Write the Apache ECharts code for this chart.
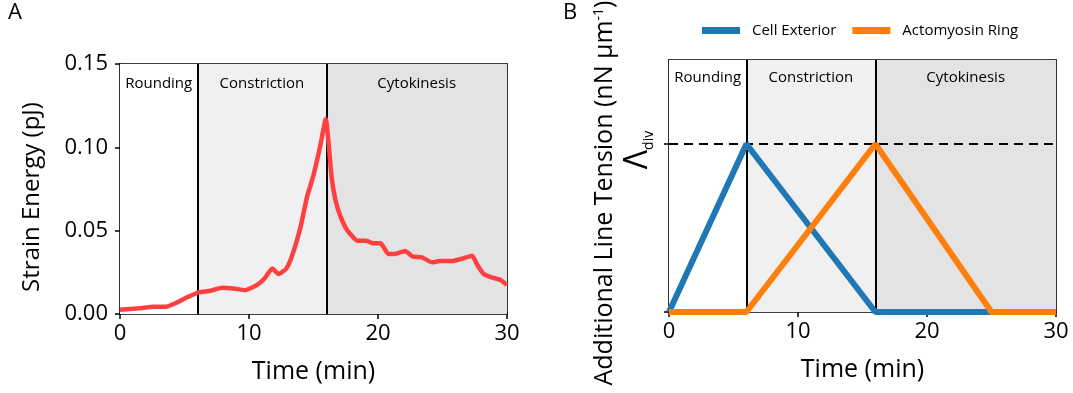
<!DOCTYPE html>
<html>
<head>
<meta charset="utf-8">
<script src="https://cdn.jsdelivr.net/npm/echarts@6/dist/echarts.min.js"></script>
<style>
html,body{margin:0;padding:0;background:#fff;}
#chart{width:1073px;height:393px;}
</style>
</head>
<body>
<div id="chart"></div>
<script>
// Panel A: strain energy vs time
const times = [0, 1.5, 2.6, 3.6, 4.4, 5.2, 6.1, 7.0, 7.9, 8.8, 9.7, 10.6, 11.2, 11.8, 12.3, 12.9, 13.4, 14.0, 14.5, 15.0, 15.5, 15.95, 16.4, 16.7, 17.1, 17.6, 18.4, 19.1, 19.6, 20.2, 20.8, 21.3, 22.1, 22.7, 23.4, 24.2, 24.8, 25.8, 26.6, 27.3, 27.7, 28.2, 28.8, 29.5, 30];
const energy = [0.0025, 0.0034, 0.0044, 0.0044, 0.0068, 0.010, 0.013, 0.0139, 0.0157, 0.0153, 0.0143, 0.0173, 0.0213, 0.0273, 0.024, 0.0273, 0.0363, 0.0523, 0.0703, 0.0833, 0.100, 0.117, 0.0824, 0.0684, 0.0584, 0.0504, 0.044, 0.044, 0.0424, 0.0424, 0.036, 0.036, 0.0378, 0.0344, 0.034, 0.031, 0.0318, 0.0318, 0.0334, 0.035, 0.0294, 0.024, 0.022, 0.0204, 0.0174];

// Panel B: additional line tension (in units of Λdiv)
const tensionTimes = [0, 6, 16, 25, 30];
const cellExterior = [0, 1, 0, 0, 0];
const actomyosinRing = [0, 0, 1, 0, 0];

// Phases
const phaseNames = ['Rounding', 'Constriction', 'Cytokinesis'];
const phaseBounds = [0, 6, 16, 30];
const phaseColors = ['#ffffff', '#f0f0f0', '#e3e3e3'];

const xTicks = [0, 10, 20, 30];
const yTicksA = [0, 0.05, 0.10, 0.15];
const lambdaDiv = 1;

const FONT = 'Open Sans';

function pairs(xs, ys) { return xs.map((x, i) => [x, ys[i]]); }

function phaseAreas(dist) {
  return phaseNames.map((n, i) => [
    { name: n, xAxis: phaseBounds[i], itemStyle: { color: phaseColors[i] },
      label: { show: true, position: 'insideTop', distance: dist, color: '#000', fontSize: 15, fontFamily: FONT } },
    { xAxis: phaseBounds[i + 1] }
  ]);
}

function bottomAxis(gi) {
  return {
    gridIndex: gi, type: 'value', min: xTicks[0], max: xTicks[xTicks.length - 1], interval: 10,
    axisLine: { onZero: false, lineStyle: { color: '#000', width: 1.6 } },
    axisTick: { show: true, length: 5, lineStyle: { color: '#000', width: 1.5 } },
    axisLabel: { color: '#000', fontSize: 22, fontFamily: FONT, margin: 9 },
    splitLine: { show: false },
    name: 'Time (min)', nameLocation: 'middle', nameGap: 45,
    nameTextStyle: { color: '#000', fontSize: 25, fontFamily: FONT }
  };
}
function frameAxisX(gi) {
  return { gridIndex: gi, type: 'value', position: 'top', min: 0, max: 1,
    axisLine: { show: true, onZero: false, lineStyle: { color: '#000', width: 1.6 } },
    axisTick: { show: false }, axisLabel: { show: false }, splitLine: { show: false } };
}
function frameAxisY(gi) {
  return { gridIndex: gi, type: 'value', position: 'right', min: 0, max: 1,
    axisLine: { show: true, onZero: false, lineStyle: { color: '#000', width: 1.6 } },
    axisTick: { show: false }, axisLabel: { show: false }, splitLine: { show: false } };
}

const chart = echarts.init(document.getElementById('chart'), null, { renderer: 'canvas' });

const option = {
  animation: false,
  backgroundColor: '#fff',
  textStyle: { fontFamily: FONT },
  grid: [
    { left: 120, top: 64, width: 387, height: 250, containLabel: false, outerBoundsMode: 'none' },
    { left: 669, top: 60, width: 387, height: 252, containLabel: false, outerBoundsMode: 'none' }
  ],
  legend: {
    data: ['Cell Exterior', 'Actomyosin Ring'],
    left: 697, top: 18,
    icon: 'rect', itemWidth: 38, itemHeight: 7, itemGap: 16,
    textStyle: { color: '#000', fontSize: 15, fontFamily: FONT, padding: [0, 0, 0, 7] }
  },
  xAxis: [bottomAxis(0), bottomAxis(1), frameAxisX(0), frameAxisX(1)],
  yAxis: [
    {
      gridIndex: 0, type: 'value', min: yTicksA[0], max: yTicksA[yTicksA.length - 1], interval: 0.05,
      axisLine: { show: true, onZero: false, lineStyle: { color: '#000', width: 1.6 } },
      axisTick: { show: true, length: 5, lineStyle: { color: '#000', width: 1.5 } },
      axisLabel: { color: '#000', fontSize: 22, fontFamily: FONT, margin: 12, formatter: v => v.toFixed(2) },
      splitLine: { show: false },
      name: 'Strain Energy (pJ)', nameLocation: 'middle', nameGap: 76,
      nameTextStyle: { color: '#000', fontSize: 24, fontFamily: FONT, padding: [0, 16, 0, 0] }
    },
    {
      gridIndex: 1, type: 'value', min: 0, max: 1.5,
      axisLine: { show: true, onZero: false, lineStyle: { color: '#000', width: 1.6 } },
      axisTick: { show: true, length: 5, customValues: [0, lambdaDiv], lineStyle: { color: '#000', width: 1.5 } },
      axisLabel: {
        customValues: [lambdaDiv], rotate: 90, margin: 15,
        padding: [0, 12, 0, 0],
        formatter: () => '{L|Λ}{d|div}',
        rich: {
          L: { fontSize: 32, fontFamily: FONT, color: '#000' },
          d: { fontSize: 14, fontFamily: FONT, color: '#000', verticalAlign: 'bottom', padding: [0, 0, -2, 0] }
        }
      },
      splitLine: { show: false },
      name: '{t|Additional Line Tension (nN µm}{s|-1}{t|)}', nameLocation: 'middle', nameGap: 52,
      nameTextStyle: {
        color: '#000', fontFamily: FONT, padding: [0, 14, 0, 0],
        rich: {
          t: { fontSize: 25, fontFamily: FONT, color: '#000' },
          s: { fontSize: 14, fontFamily: FONT, color: '#000', verticalAlign: 'top' }
        }
      }
    },
    frameAxisY(0), frameAxisY(1)
  ],
  graphic: [
    { type: 'text', left: 8, top: 2, style: { text: 'A', fontSize: 22, fontFamily: FONT, fill: '#000' } },
    { type: 'text', left: 563, top: 2, style: { text: 'B', fontSize: 22, fontFamily: FONT, fill: '#000' } }
  ],
  series: [
    {
      name: 'phasesA', type: 'line', xAxisIndex: 0, yAxisIndex: 0, data: [], z: 1, silent: true,
      markArea: { silent: true, data: phaseAreas(12) },
      markLine: { silent: true, symbol: ['none', 'none'], label: { show: false },
        lineStyle: { color: '#000', width: 2, type: 'solid' },
        data: [{ xAxis: phaseBounds[1] }, { xAxis: phaseBounds[2] }] }
    },
    {
      name: 'Strain Energy', type: 'line', xAxisIndex: 0, yAxisIndex: 0, z: 5,
      data: pairs(times, energy), showSymbol: false, smooth: 0.15,
      lineStyle: { color: '#ff4040', width: 4.5 }, itemStyle: { color: '#ff4040' }
    },
    {
      name: 'phasesB', type: 'line', xAxisIndex: 1, yAxisIndex: 1, data: [], z: 1, silent: true,
      markArea: { silent: true, data: phaseAreas(10) },
      markLine: { silent: true, symbol: ['none', 'none'], label: { show: false },
        lineStyle: { color: '#000', width: 2, type: 'solid' },
        data: [
          { xAxis: phaseBounds[1] }, { xAxis: phaseBounds[2] },
          { yAxis: lambdaDiv, lineStyle: { color: '#000', width: 2, type: [9, 6] } }
        ] }
    },
    {
      name: 'Cell Exterior', type: 'line', xAxisIndex: 1, yAxisIndex: 1, z: 5,
      data: pairs(tensionTimes, cellExterior), showSymbol: false,
      lineStyle: { color: '#1f77b4', width: 6 }, itemStyle: { color: '#1f77b4' }
    },
    {
      name: 'Actomyosin Ring', type: 'line', xAxisIndex: 1, yAxisIndex: 1, z: 6,
      data: pairs(tensionTimes, actomyosinRing), showSymbol: false,
      lineStyle: { color: '#ff7f0e', width: 6 }, itemStyle: { color: '#ff7f0e' }
    }
  ]
};
chart.setOption(option);
</script>
</body>
</html>
